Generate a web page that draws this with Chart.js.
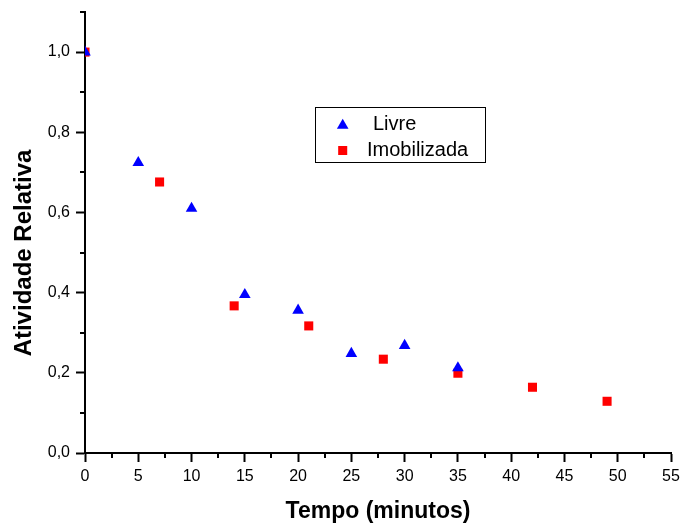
<!DOCTYPE html>
<html><head><meta charset="utf-8">
<script src="https://cdn.jsdelivr.net/npm/chart.js@4"></script>
<style>html,body{margin:0;padding:0;background:#fff}canvas{display:block}</style>
</head><body>
<canvas id="c" width="682" height="530"></canvas>
<script>
// ---- data ----
const seriesLabels = ['Livre', 'Imobilizada'];
const livreX = [0, 5, 10, 15, 20, 25, 30, 35];
const livreY = [1.0, 0.724, 0.61, 0.395, 0.356, 0.248, 0.268, 0.212];
const imobX = [0, 7, 14, 21, 28, 35, 42, 49];
const imobY = [1.0, 0.676, 0.367, 0.317, 0.234, 0.199, 0.164, 0.129];
const xTicks = [0, 5, 10, 15, 20, 25, 30, 35, 40, 45, 50, 55];
const yTicks = [0, 0.2, 0.4, 0.6, 0.8, 1.0];
const xTitle = 'Tempo (minutos)';
const yTitle = 'Atividade Relativa';

const FONT = '"Liberation Sans", Arial, Helvetica, sans-serif';
Chart.defaults.font.family = FONT;
Chart.defaults.color = '#000';

const zeroPad = s => { s.paddingTop = 0; s.paddingBottom = 0; s.paddingLeft = 0; s.paddingRight = 0; };

const minorTicks = {
  id: 'minorTicks',
  afterDraw(chart) {
    const ctx = chart.ctx;
    ctx.save();
    ctx.strokeStyle = '#000';
    ctx.lineWidth = 2;
    const len = 5;
    const xs = chart.scales.x, ys = chart.scales.y;
    const mins = (arr, lo, hi) => {
      const out = [];
      const step = arr[1] - arr[0];
      for (let v = arr[0] - step / 2; v <= hi + 1e-9; v += step) if (v >= lo - 1e-9) out.push(v);
      return out;
    };
    mins(xTicks, xs.min, xs.max).forEach(v => {
      const p = Math.round(xs.getPixelForValue(v));
      ctx.beginPath(); ctx.moveTo(p, chart.chartArea.bottom); ctx.lineTo(p, chart.chartArea.bottom + len); ctx.stroke();
    });
    mins(yTicks, ys.min, ys.max).forEach(v => {
      const p = Math.round(ys.getPixelForValue(v));
      ctx.beginPath(); ctx.moveTo(chart.chartArea.left, p); ctx.lineTo(chart.chartArea.left - len, p); ctx.stroke();
    });
    ctx.restore();
  }
};

const extras = {
  id: 'extras',
  afterDraw(chart) {
    const ctx = chart.ctx;
    ctx.save();
    // y title
    ctx.font = 'bold 24px ' + FONT;
    ctx.fillStyle = '#000';
    ctx.textAlign = 'center';
    ctx.textBaseline = 'middle';
    ctx.translate(24, 253);
    ctx.rotate(-Math.PI / 2);
    ctx.fillText(yTitle, 0, 0);
    ctx.restore();

    // legend box
    ctx.save();
    ctx.fillStyle = '#fff';
    ctx.fillRect(315.5, 107.5, 170, 55);
    ctx.strokeStyle = '#000';
    ctx.lineWidth = 1;
    ctx.strokeRect(315.5, 107.5, 170, 55);
    const ds = chart.data.datasets;
    const rows = [{y: 125.5, tx: 373, ty: 124.5}, {y: 150.5, tx: 367, ty: 150}];
    ds.forEach((d, i) => {
      ctx.fillStyle = d.backgroundColor;
      Chart.helpers.drawPoint(ctx, {pointStyle: d.pointStyle, radius: d.pointRadius, rotation: 0, borderWidth: 0}, 342.7, rows[i].y);
      ctx.fillStyle = '#000';
      ctx.font = '20px ' + FONT;
      ctx.textAlign = 'left';
      ctx.textBaseline = 'middle';
      ctx.fillText(d.label, rows[i].tx, rows[i].ty);
    });
    ctx.restore();
  }
};

new Chart(document.getElementById('c'), {
  type: 'scatter',
  data: {
    datasets: [
      {
        label: seriesLabels[0],
        data: livreX.map((x, i) => ({x, y: livreY[i]})),
        pointStyle: 'triangle',
        pointRadius: 6.7,
        pointHoverRadius: 6.7,
        backgroundColor: '#0000ff',
        borderWidth: 0,
        clip: 0
      },
      {
        label: seriesLabels[1],
        data: imobX.map((x, i) => ({x, y: imobY[i]})),
        pointStyle: 'rect',
        pointRadius: 6.4,
        pointHoverRadius: 6.4,
        backgroundColor: '#ff0000',
        borderWidth: 0,
        clip: 0
      }
    ]
  },
  options: {
    responsive: false,
    animation: false,
    events: [],
    layout: {padding: {top: 12, right: 11, left: 0, bottom: 0}},
    plugins: {legend: {display: false}, tooltip: {enabled: false}},
    scales: {
      x: {
        type: 'linear',
        min: 0, max: 55,
        afterBuildTicks: s => { s.ticks = xTicks.map(v => ({value: v})); },
        afterFit: s => { s.height = 77; zeroPad(s); },
        ticks: {font: {size: 16}, color: '#000', padding: 5, maxRotation: 0, autoSkip: false,
                callback: v => String(v)},
        grid: {drawOnChartArea: false, drawTicks: true, tickLength: 9, tickWidth: 2, tickColor: '#000', color: '#000'},
        border: {display: true, color: '#000', width: 2},
        title: {display: true, text: xTitle, font: {size: 23, weight: 'bold'}, color: '#000', padding: {top: 0, bottom: 4.5}}
      },
      y: {
        type: 'linear',
        min: 0, max: 1.1,
        afterBuildTicks: s => { s.ticks = yTicks.map(v => ({value: v})); },
        afterFit: s => { s.width = 85; zeroPad(s); },
        ticks: {font: {size: 16}, color: '#000', padding: 6, autoSkip: false,
                callback: v => Number(v).toFixed(1).replace('.', ',')},
        grid: {drawOnChartArea: false, drawTicks: true, tickLength: 9, tickWidth: 2, tickColor: '#000', color: '#000'},
        border: {display: true, color: '#000', width: 2},
        title: {display: false}
      }
    }
  },
  plugins: [minorTicks, extras]
});
</script>
</body></html>
